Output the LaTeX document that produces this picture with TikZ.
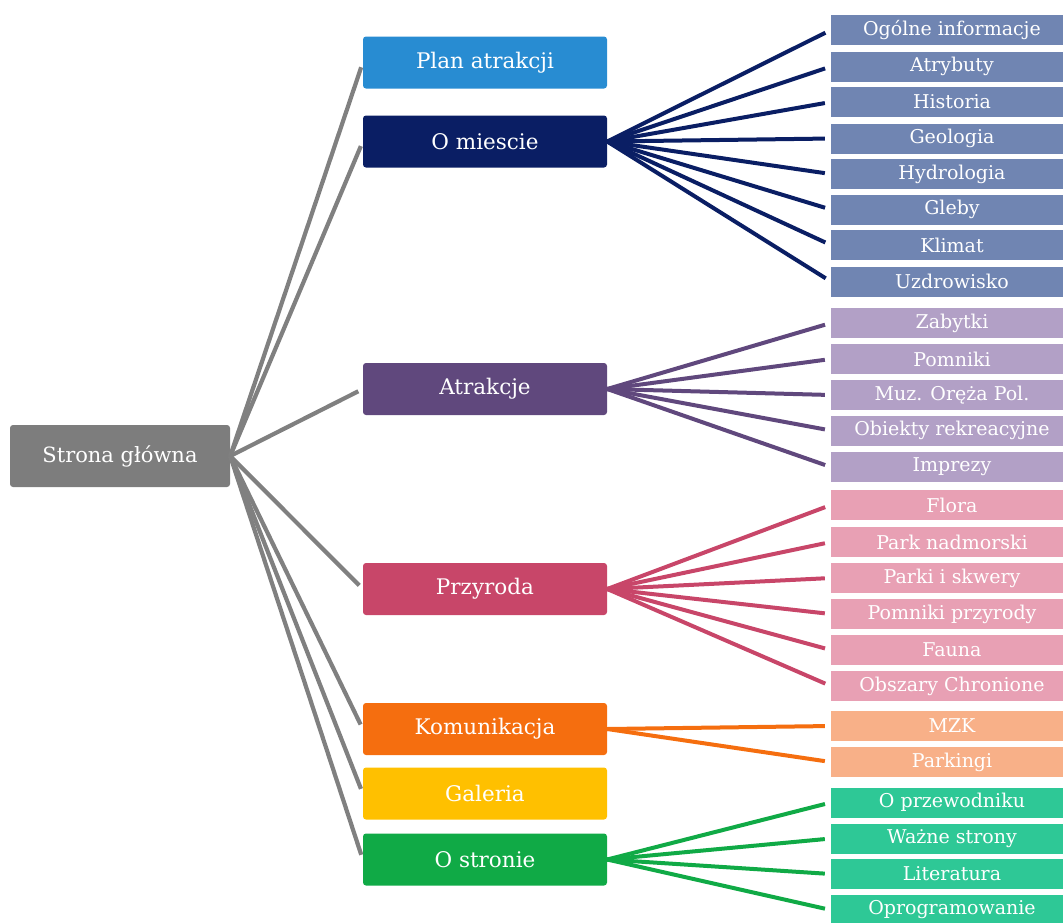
\documentclass[tikz,border=0pt]{standalone}
\usepackage{fontspec}
\setmainfont{DejaVu Serif}
\definecolor{cRoot}{RGB}{125,125,125}
\definecolor{cRootLine}{RGB}{128,128,128}
\definecolor{cPlan}{RGB}{40,140,210}
\definecolor{cMiasto}{RGB}{10,30,100}
\definecolor{cAtr}{RGB}{96,72,125}
\definecolor{cPrz}{RGB}{200,70,105}
\definecolor{cKom}{RGB}{245,110,15}
\definecolor{cGal}{RGB}{255,192,0}
\definecolor{cOst}{RGB}{16,170,70}
\definecolor{lMiasto}{RGB}{112,133,178}
\definecolor{lAtr}{RGB}{178,160,198}
\definecolor{lPrz}{RGB}{232,160,180}
\definecolor{lKom}{RGB}{248,176,136}
\definecolor{lOst}{RGB}{46,200,150}
\begin{document}
\begin{tikzpicture}[x=1pt,y=-1pt,
  rootbox/.style={rounded corners=3pt, minimum width=220pt, minimum height=62pt, inner sep=0pt, text=white, font=\fontsize{21}{24}\selectfont},
  midbox/.style={rounded corners=3pt, minimum width=244pt, minimum height=52pt, inner sep=0pt, text=white, font=\fontsize{21.5}{24}\selectfont},
  leafbox/.style={minimum width=242pt, minimum height=30pt, inner sep=0pt, text=white, font=\fontsize{19}{22}\selectfont},
  rootline/.style={draw=cRootLine, line width=4.2pt, shorten >=5pt},
  leafline/.style={line width=4pt, shorten >=6pt, shorten <=-3pt}
]
\useasboundingbox (0,0) rectangle (1063,922);

% root
\node[rootbox, fill=cRoot] (root) at (120,456) {Strona główna};

% middle level
\node[midbox, fill=cPlan] (plan) at (485,62.5) {Plan atrakcji};
\node[midbox, fill=cMiasto] (miasto) at (485,141.5) {O miescie};
\node[midbox, fill=cAtr] (atr) at (485,389) {Atrakcje};
\node[midbox, fill=cPrz] (prz) at (485,589) {Przyroda};
\node[midbox, fill=cKom] (kom) at (485,729) {Komunikacja};
\node[midbox, fill=cGal] (gal) at (485,793.5) {Galeria};
\node[midbox, fill=cOst] (ost) at (485,859.5) {O stronie};

% leaves: O miescie
\node[leafbox, fill=lMiasto] (m1) at (952,30) {Ogólne informacje};
\node[leafbox, fill=lMiasto] (m2) at (952,66.5) {Atrybuty};
\node[leafbox, fill=lMiasto] (m3) at (952,102) {Historia};
\node[leafbox, fill=lMiasto] (m4) at (952,138.5) {Geologia};
\node[leafbox, fill=lMiasto] (m5) at (952,174) {Hydrologia};
\node[leafbox, fill=lMiasto] (m6) at (952,209.5) {Gleby};
\node[leafbox, fill=lMiasto] (m7) at (952,245) {Klimat};
\node[leafbox, fill=lMiasto] (m8) at (952,281.5) {Uzdrowisko};

% leaves: Atrakcje
\node[leafbox, fill=lAtr] (a1) at (952,323) {Zabytki};
\node[leafbox, fill=lAtr] (a2) at (952,359) {Pomniki};
\node[leafbox, fill=lAtr] (a3) at (952,395) {Muz. Oręża Pol.};
\node[leafbox, fill=lAtr] (a4) at (952,430.5) {Obiekty rekreacyjne};
\node[leafbox, fill=lAtr] (a5) at (952,467) {Imprezy};

% leaves: Przyroda
\node[leafbox, fill=lPrz] (p1) at (952,505) {Flora};
\node[leafbox, fill=lPrz] (p2) at (952,542) {Park nadmorski};
\node[leafbox, fill=lPrz] (p3) at (952,578) {Parki i skwery};
\node[leafbox, fill=lPrz] (p4) at (952,614) {Pomniki przyrody};
\node[leafbox, fill=lPrz] (p5) at (952,650) {Fauna};
\node[leafbox, fill=lPrz] (p6) at (952,686) {Obszary Chronione};

% leaves: Komunikacja
\node[leafbox, fill=lKom] (k1) at (952,726) {MZK};
\node[leafbox, fill=lKom] (k2) at (952,762) {Parkingi};

% leaves: O stronie
\node[leafbox, fill=lOst] (o1) at (952,802.5) {O przewodniku};
\node[leafbox, fill=lOst] (o2) at (952,838.5) {Ważne strony};
\node[leafbox, fill=lOst] (o3) at (952,874) {Literatura};
\node[leafbox, fill=lOst] (o4) at (952,910) {Oprogramowanie};

% root connectors
\foreach \t in {plan,miasto,atr,prz,kom,gal,ost}
  \draw[rootline] (root.east) -- (\t.west);

% leaf connectors
\foreach \t in {m1,m2,m3,m4,m5,m6,m7,m8}
  \draw[leafline, draw=cMiasto] (miasto.east) -- (\t.west);
\foreach \t in {a1,a2,a3,a4,a5}
  \draw[leafline, draw=cAtr] (atr.east) -- (\t.west);
\foreach \t in {p1,p2,p3,p4,p5,p6}
  \draw[leafline, draw=cPrz] (prz.east) -- (\t.west);
\foreach \t in {k1,k2}
  \draw[leafline, draw=cKom] (kom.east) -- (\t.west);
\foreach \t in {o1,o2,o3,o4}
  \draw[leafline, draw=cOst] (ost.east) -- (\t.west);
\end{tikzpicture}
\end{document}
